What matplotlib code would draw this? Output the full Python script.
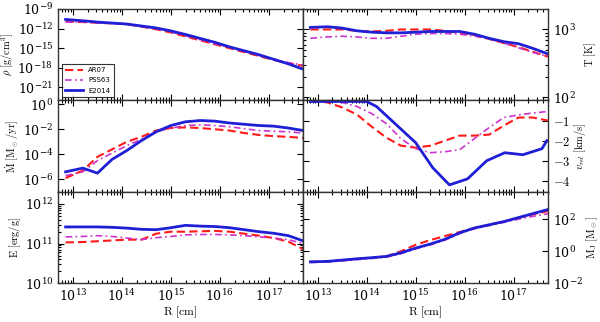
import numpy as np
import matplotlib
matplotlib.use("Agg")
import matplotlib.pyplot as plt
from matplotlib.ticker import LogLocator, FixedLocator, FixedFormatter

plt.rcParams['mathtext.fontset'] = 'cm'
plt.rcParams['font.family'] = 'serif'
plt.rcParams['font.serif'] = ['DejaVu Serif']

# common radius grid (log10 R [cm])
logR = np.array([12.85, 13.2, 13.5, 13.8, 14.1, 14.4, 14.7, 15.0, 15.3,
                 15.6, 15.9, 16.2, 16.5, 16.8, 17.1, 17.4, 17.7])

# density, log10 g/cm^3
rho_ar07 = [-10.9, -11.0, -11.1, -11.2, -11.3, -11.7, -12.1, -12.6, -13.2,
            -13.8, -14.4, -15.0, -15.6, -16.2, -16.8, -17.3, -17.7]
rho_pss63 = [-11.0, -11.0, -11.15, -11.2, -11.35, -11.7, -12.0, -12.5, -13.1,
             -13.7, -14.3, -14.9, -15.5, -16.1, -16.7, -17.2, -17.6]
rho_e2014 = [-10.6, -10.8, -11.0, -11.15, -11.3, -11.6, -11.9, -12.35, -12.9,
             -13.5, -14.1, -14.8, -15.4, -16.0, -16.7, -17.4, -18.2]

# temperature, log10 K
T_ar07 = [3.0, 3.0, 3.0, 2.98, 2.97, 2.98, 3.0, 3.0, 3.0,
          2.98, 2.95, 2.92, 2.86, 2.8, 2.74, 2.67, 2.6]
T_pss63 = [2.87, 2.89, 2.9, 2.89, 2.87, 2.87, 2.9, 2.93, 2.94,
           2.94, 2.93, 2.9, 2.86, 2.8, 2.73, 2.66, 2.6]
T_e2014 = [3.03, 3.04, 3.02, 2.98, 2.96, 2.95, 2.95, 2.96, 2.97,
           2.97, 2.97, 2.93, 2.87, 2.82, 2.79, 2.72, 2.64]

# mass flow, log10 Msun/yr
mdot_ar07 = [-5.9, -5.3, -4.2, -3.6, -3.0, -2.6, -2.1, -1.9, -1.85,
             -1.9, -2.0, -2.1, -2.3, -2.45, -2.55, -2.6, -2.7]
mdot_pss63 = [-5.7, -5.4, -4.5, -3.9, -3.3, -2.8, -2.2, -1.9, -1.7,
              -1.65, -1.7, -1.8, -1.95, -2.1, -2.15, -2.2, -2.3]
mdot_e2014 = [-5.4, -5.1, -5.5, -4.4, -3.7, -2.9, -2.2, -1.7, -1.4,
              -1.3, -1.35, -1.5, -1.6, -1.7, -1.75, -1.9, -2.1]

# relative velocity, km/s
v_ar07 = [0.0, -0.1, -0.35, -0.7, -1.3, -1.85, -2.25, -2.35, -2.25,
          -2.0, -1.75, -1.75, -1.7, -1.25, -0.85, -0.85, -1.0]
v_pss63 = [0.0, 0.0, -0.1, -0.3, -0.65, -1.15, -1.9, -2.4, -2.6,
           -2.55, -2.45, -1.9, -1.35, -0.85, -0.72, -0.62, -0.55]
logR_v_e2014 = [12.85, 14.0, 14.2, 15.0, 15.35, 15.69, 16.06, 16.45, 16.82, 17.19, 17.58, 17.68]
v_e2014 = [-0.05, -0.05, -0.3, -2.1, -3.35, -4.2, -3.9, -3.0, -2.6, -2.7, -2.4, -2.0]
v_ticks = [0, -1, -2, -3, -4]
v_ticklabels = ['', r'$-1$', r'$-2$', r'$-3$', r'$-4$']

# energy, log10 erg/g
E_ar07 = [11.03, 11.04, 11.06, 11.08, 11.1, 11.1, 11.25, 11.3, 11.3,
          11.31, 11.32, 11.3, 11.25, 11.2, 11.14, 11.05, 10.86]
E_pss63 = [11.17, 11.18, 11.2, 11.18, 11.14, 11.1, 11.15, 11.18, 11.22,
           11.23, 11.23, 11.22, 11.2, 11.17, 11.14, 11.1, 11.0]
E_e2014 = [11.42, 11.42, 11.42, 11.41, 11.39, 11.36, 11.35, 11.4, 11.46,
           11.44, 11.43, 11.4, 11.35, 11.3, 11.26, 11.2, 11.07]

# Jeans mass, log10 Msun
MJ_ar07 = [-0.66, -0.63, -0.55, -0.47, -0.4, -0.32, 0.0, 0.4, 0.7,
           0.95, 1.2, 1.45, 1.65, 1.85, 2.08, 2.3, 2.5]
MJ_pss63 = [-0.7, -0.67, -0.6, -0.52, -0.45, -0.37, -0.15, 0.15, 0.4,
            0.7, 1.1, 1.4, 1.6, 1.8, 2.0, 2.18, 2.33]
MJ_e2014 = [-0.66, -0.63, -0.55, -0.47, -0.4, -0.32, -0.1, 0.2, 0.45,
            0.75, 1.15, 1.45, 1.65, 1.85, 2.1, 2.35, 2.6]

R = 10**logR
red = dict(color='#ff1a1a', ls=(0, (4, 2)), lw=1.5)
mag = dict(color='#cc33cc', ls=(0, (4, 2, 1, 2)), lw=1.2)
blue = dict(color='#1f1fd6', ls='-', lw=2.0)

fig, axes = plt.subplots(3, 2, figsize=(6, 3.22), dpi=100, sharex=True)
fig.subplots_adjust(left=0.097, right=0.913, top=0.972, bottom=0.12,
                    wspace=0, hspace=0)

panels = [
    (axes[0, 0], rho_ar07, rho_pss63, rho_e2014, (1e-23, 1e-9)),
    (axes[0, 1], T_ar07, T_pss63, T_e2014, (90, 2000)),
    (axes[1, 0], mdot_ar07, mdot_pss63, mdot_e2014, (1e-7, 2)),
    (axes[2, 0], E_ar07, E_pss63, E_e2014, (1e10, 2e12)),
    (axes[2, 1], MJ_ar07, MJ_pss63, MJ_e2014, (1e-2, 5e3)),
]
for ax, a, p, e, yl in panels:
    ax.plot(R, 10**np.array(a), label='AR07', **red)
    ax.plot(R, 10**np.array(p), label='PSS63', **mag)
    ax.plot(R, 10**np.array(e), label='E2014', **blue)
    ax.set_yscale('log')
    ax.set_ylim(*yl)

axv = axes[1, 1]
axv.plot(R, v_ar07, **red)
axv.plot(R, v_pss63, **mag)
axv.plot(10**np.array(logR_v_e2014), v_e2014, **blue)
axv.set_ylim(-4.55, 0)
axv.yaxis.set_major_locator(FixedLocator(v_ticks))
axv.yaxis.set_major_formatter(FixedFormatter(v_ticklabels))

axes[0, 0].yaxis.set_major_locator(FixedLocator([1e-21, 1e-18, 1e-15, 1e-12, 1e-9]))
axes[1, 0].yaxis.set_major_locator(FixedLocator([1e-6, 1e-4, 1e-2, 1]))
axes[2, 1].yaxis.set_major_locator(FixedLocator([1e-2, 1, 1e2]))

for ax in axes.flat:
    ax.set_xscale('log')
    ax.set_xlim(5e12, 5e17)
    ax.xaxis.set_major_locator(LogLocator(base=10, numticks=10))
    ax.tick_params(which='both', direction='in', top=True, bottom=True,
                   left=True, right=True, labelsize=9, width=0.8)
    ax.tick_params(which='major', length=4)
    ax.tick_params(which='minor', length=2)
    for s in ax.spines.values():
        s.set_linewidth(1.0)
        s.set_color('#333333')

for ax in axes[:, 1]:
    ax.yaxis.tick_right()
    ax.yaxis.set_label_position('right')
    ax.tick_params(which='both', left=True, right=True, labelleft=False, labelright=True)

axes[0, 0].set_ylabel(r'$\rho\ [\mathrm{g/cm^3}]$', fontsize=7.5, labelpad=1)
axes[1, 0].set_ylabel(r'$\dot{\mathrm{M}}\ [\mathrm{M_\odot/yr}]$', fontsize=7.5, labelpad=1)
axes[2, 0].set_ylabel(r'$\mathrm{E\ [erg/g]}$', fontsize=7.5, labelpad=1)
axes[0, 1].set_ylabel(r'$\mathrm{T\ [K]}$', fontsize=7.5, labelpad=5)
axes[1, 1].set_ylabel(r'$v_{rel}\ [\mathrm{km/s}]$', fontsize=7.5, labelpad=1)
axes[2, 1].set_ylabel(r'$\mathrm{M_J\ [M_\odot]}$', fontsize=7.5, labelpad=1)
for ax in axes[2]:
    ax.set_xlabel(r'$\mathrm{R\ [cm]}$', fontsize=8.5, labelpad=0)

leg = axes[0, 0].legend(loc='lower left', frameon=True, fancybox=False,
                        prop={'family': 'DejaVu Sans', 'size': 5},
                        handlelength=2.5, borderpad=0.5, labelspacing=0.6)
leg.get_frame().set_edgecolor('black')
leg.get_frame().set_linewidth(0.8)

fig.savefig('out.png', dpi=100)
